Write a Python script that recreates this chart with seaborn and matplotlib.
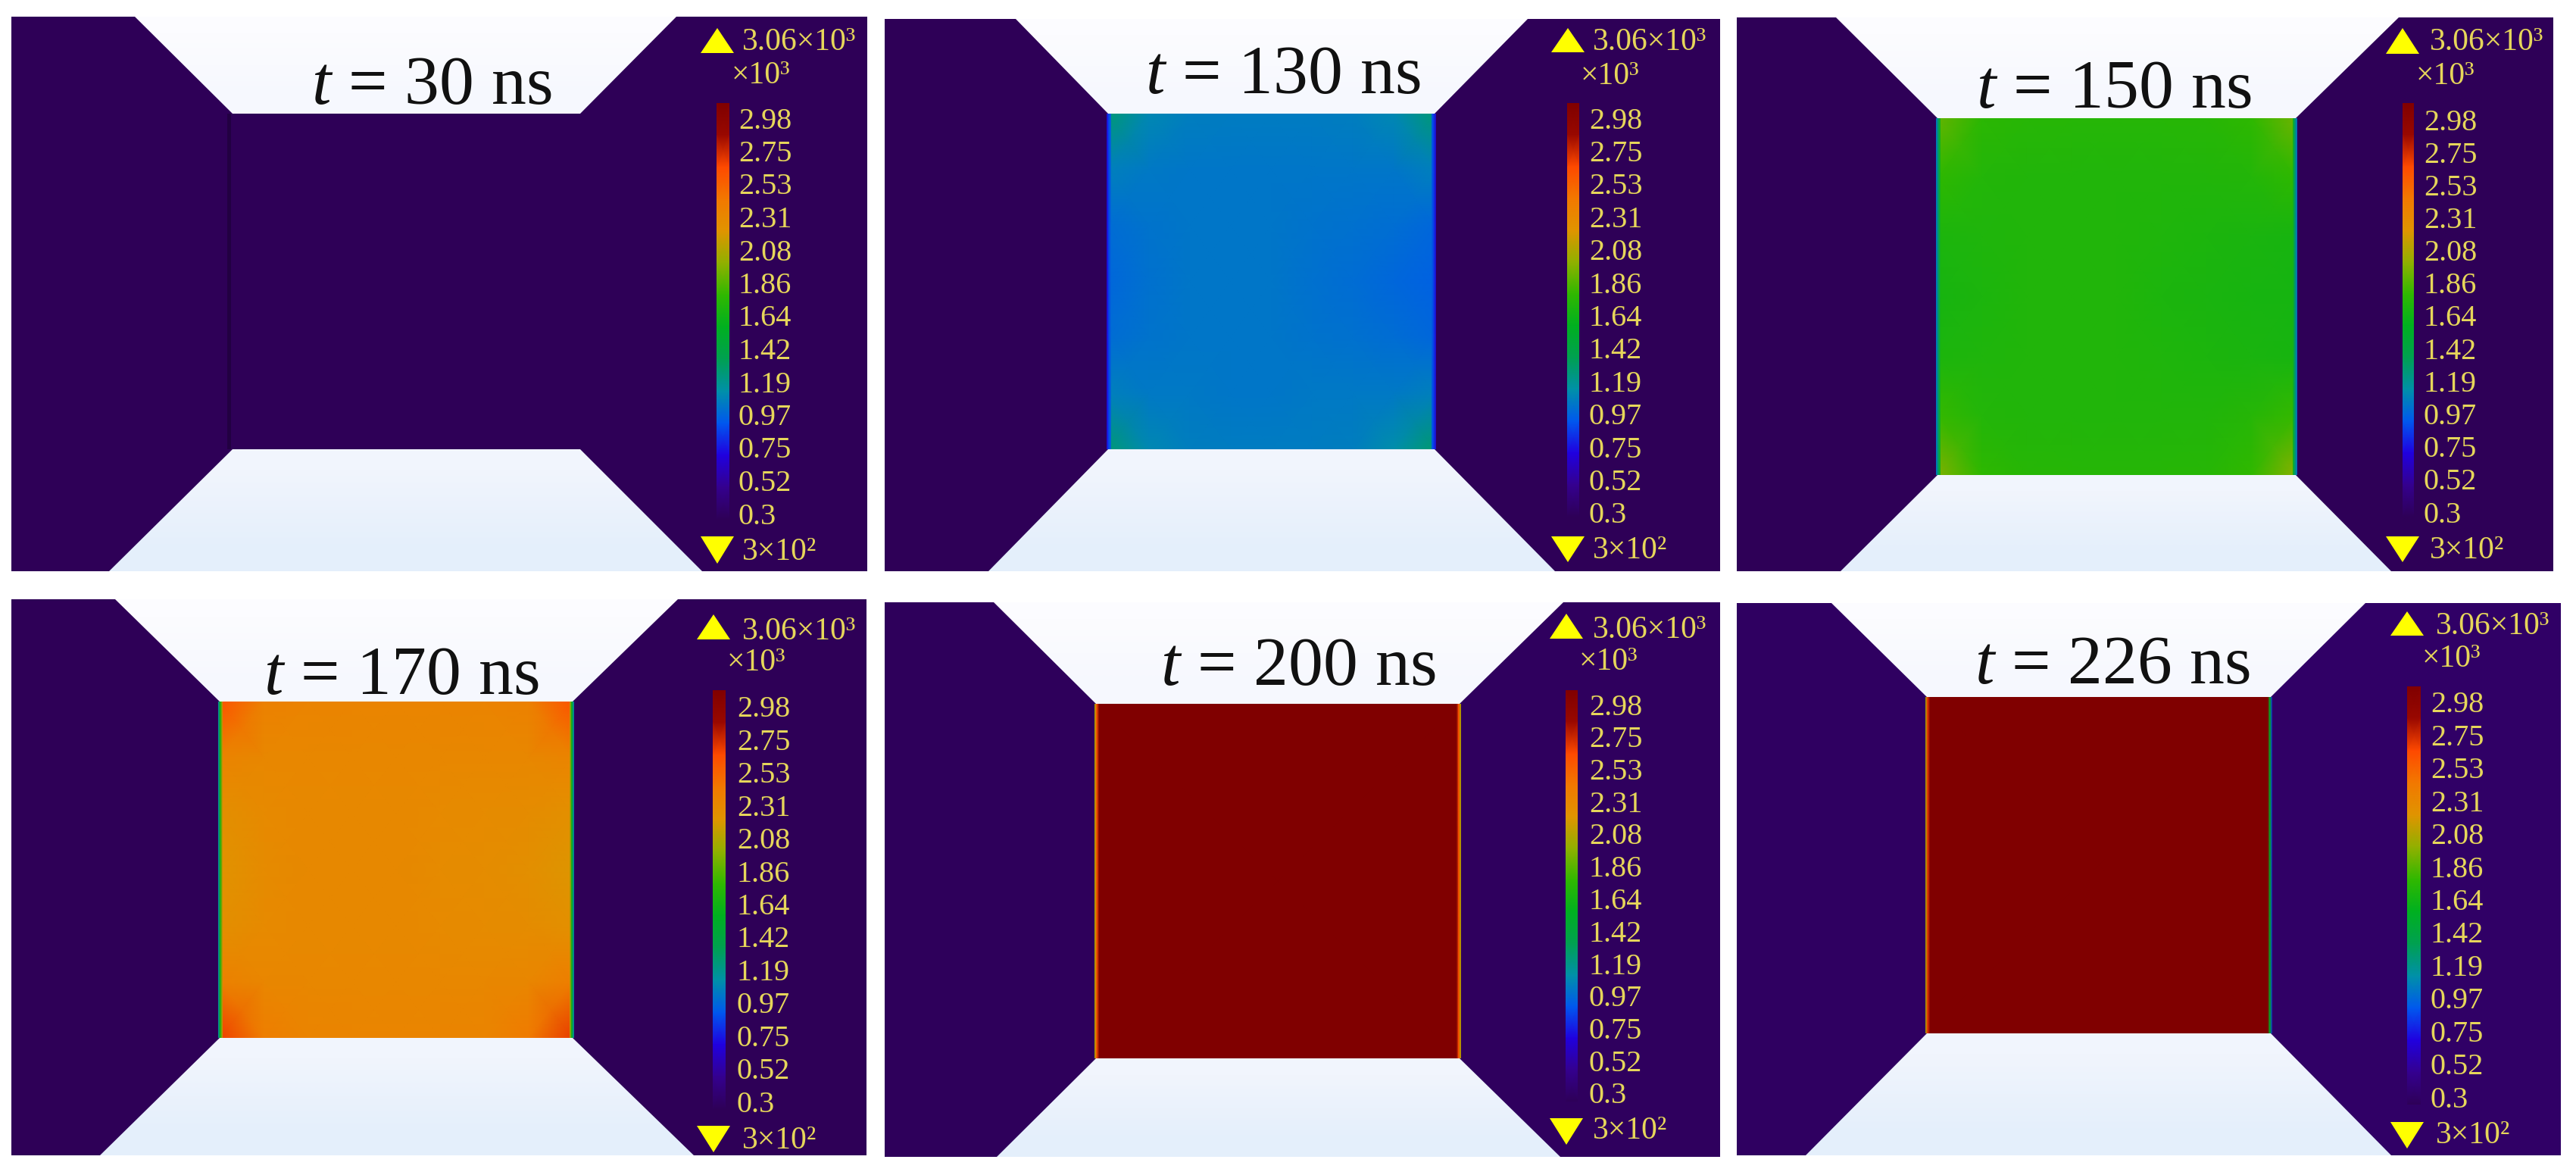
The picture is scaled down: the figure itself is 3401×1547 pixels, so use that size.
import numpy as np
import matplotlib
matplotlib.use('Agg')
import matplotlib.pyplot as plt
from matplotlib.colors import LinearSegmentedColormap
from matplotlib.patches import Polygon, Rectangle
import seaborn as sns

W, H = 3401, 1547

sns.set_theme(style='white')
plt.rcParams['font.family'] = ['Liberation Serif', 'DejaVu Serif']
plt.rcParams['mathtext.fontset'] = 'custom'
plt.rcParams['mathtext.rm'] = 'Liberation Serif'
plt.rcParams['mathtext.it'] = 'Liberation Serif:italic'

# Temperature scale (x 10^3 K)
vmin = 0.3
vmax = 3.06
scale_levels = [0.3, 0.52, 0.75, 0.97, 1.19, 1.42, 1.64, 1.86, 2.08, 2.31, 2.53, 2.75, 2.98, 3.06]
scale_colors = ['#2e0057', '#340090', '#2000e0', '#0058ee', '#0090a8', '#00a050', '#00b020',
                '#30b800', '#90b000', '#e09400', '#f27800', '#ff4a00', '#9a0800', '#800000']
tick_labels = ['2.98', '2.75', '2.53', '2.31', '2.08', '1.86', '1.64', '1.42', '1.19', '0.97', '0.75', '0.52', '0.3']
max_label = '3.06×10³'
min_label = '3×10²'
unit_label = '×10³'

# Time of each snapshot
times = ['30', '130', '150', '170', '200', '226']

# Temperature in the middle region of each snapshot, rows top to bottom
field_30 = [[0.3, 0.3], [0.3, 0.3]]
field_130 = [
    [1.32, 1.16, 1.12, 1.11, 1.11, 1.11, 1.12, 1.16, 1.32],
    [1.13, 1.10, 1.09, 1.09, 1.09, 1.09, 1.09, 1.09, 1.13],
    [1.05, 1.08, 1.09, 1.09, 1.09, 1.08, 1.07, 1.06, 1.03],
    [1.03, 1.07, 1.09, 1.09, 1.09, 1.07, 1.05, 1.03, 1.01],
    [1.05, 1.08, 1.09, 1.09, 1.09, 1.08, 1.07, 1.05, 1.03],
    [1.13, 1.10, 1.10, 1.09, 1.09, 1.10, 1.10, 1.10, 1.13],
    [1.32, 1.16, 1.12, 1.11, 1.11, 1.11, 1.12, 1.18, 1.34],
]
field_150 = [
    [1.98, 1.84, 1.82, 1.81, 1.81, 1.81, 1.82, 1.85, 2.00],
    [1.85, 1.80, 1.79, 1.79, 1.79, 1.79, 1.79, 1.80, 1.85],
    [1.77, 1.78, 1.79, 1.79, 1.79, 1.78, 1.77, 1.76, 1.75],
    [1.75, 1.77, 1.79, 1.79, 1.79, 1.77, 1.76, 1.75, 1.74],
    [1.77, 1.78, 1.79, 1.79, 1.79, 1.78, 1.77, 1.76, 1.75],
    [1.87, 1.80, 1.79, 1.79, 1.79, 1.79, 1.79, 1.81, 1.87],
    [2.04, 1.85, 1.82, 1.81, 1.81, 1.81, 1.82, 1.86, 2.06],
]
field_170 = [
    [2.70, 2.46, 2.44, 2.43, 2.43, 2.43, 2.44, 2.46, 2.70],
    [2.44, 2.41, 2.41, 2.41, 2.41, 2.41, 2.41, 2.41, 2.44],
    [2.35, 2.39, 2.40, 2.40, 2.40, 2.39, 2.38, 2.37, 2.34],
    [2.32, 2.38, 2.40, 2.40, 2.40, 2.38, 2.37, 2.35, 2.30],
    [2.35, 2.39, 2.40, 2.40, 2.40, 2.39, 2.38, 2.37, 2.34],
    [2.46, 2.42, 2.41, 2.41, 2.41, 2.41, 2.41, 2.42, 2.48],
    [2.78, 2.48, 2.44, 2.43, 2.43, 2.43, 2.44, 2.50, 2.80],
]
field_200 = [[3.06, 3.06], [3.06, 3.06]]
field_226 = [[3.06, 3.06], [3.06, 3.06]]
fields = [field_30, field_130, field_150, field_170, field_200, field_226]

# Temperature across the thin wall bands, outer edge to field side
walls_left = [[0.3, 0.3, 0.3], [0.72, 0.92, 1.05], [1.05, 1.35, 1.76],
              [1.15, 1.75, 2.32], [2.1, 2.7, 3.06], [2.1, 2.8, 3.06]]
walls_right = [[0.3, 0.3, 0.3], [1.01, 0.9, 0.68], [1.74, 1.35, 1.05],
               [2.3, 1.7, 1.1], [3.06, 2.7, 2.1], [3.06, 1.6, 0.8]]

# Temperature of the outer regions on each side
sides_left = [0.3, 0.3, 0.3, 0.3, 0.32, 0.34]
sides_right = [0.3, 0.3, 0.3, 0.3, 0.33, 0.36]

# Pixel layout of each panel
layouts = [
    dict(box=(15, 22, 1145, 754), top=(178, 893), mid=(307, 766, 150, 593), low=(144, 927),
         bar=(946, 963, 136, 685), tri_x=947, tri_up=(37, 70), tri_dn=(708, 744), txt_x=980,
         max_y=56, unit=(966, 100), lab_x=975, lab_y=(160, 682), min_y=729, title=(411, 137)),
    dict(box=(1168, 25, 2271, 754), top=(1341, 2017), mid=(1463, 1894, 150, 593), low=(1305, 2053),
         bar=(2069, 2085, 136, 682), tri_x=2070, tri_up=(37, 69), tri_dn=(708, 742), txt_x=2103,
         max_y=56, unit=(2087, 101), lab_x=2098, lab_y=(160, 681), min_y=727, title=(1512, 123)),
    dict(box=(2293, 23, 3371, 754), top=(2424, 3167), mid=(2558, 3031, 156, 627), low=(2430, 3157),
         bar=(3172, 3187, 136, 682), tri_x=3172, tri_up=(37, 71), tri_dn=(708, 742), txt_x=3208,
         max_y=56, unit=(3190, 101), lab_x=3200, lab_y=(162, 680), min_y=727, title=(2609, 142)),
    dict(box=(15, 791, 1144, 1525), top=(152, 895), mid=(290, 756, 926, 1370), low=(132, 916),
         bar=(941, 958, 911, 1464), tri_x=942, tri_up=(811, 844), tri_dn=(1486, 1521), txt_x=980,
         max_y=834, unit=(960, 875), lab_x=973, lab_y=(937, 1458), min_y=1506, title=(348, 916)),
    dict(box=(1168, 795, 2271, 1527), top=(1312, 2064), mid=(1447, 1927, 929, 1397), low=(1316, 2060),
         bar=(2067, 2083, 911, 1454), tri_x=2068, tri_up=(810, 843), tri_dn=(1476, 1511), txt_x=2103,
         max_y=832, unit=(2085, 874), lab_x=2098, lab_y=(934, 1447), min_y=1493, title=(1532, 904)),
    dict(box=(2293, 796, 3381, 1525), top=(2418, 3123), mid=(2544, 2998, 920, 1364), low=(2384, 3157),
         bar=(3178, 3196, 906, 1458), tri_x=3178, tri_up=(807, 839), tri_dn=(1481, 1516), txt_x=3216,
         max_y=827, unit=(3198, 870), lab_x=3209, lab_y=(931, 1452), min_y=1499, title=(2607, 902)),
]

positions = [(v - vmin) / (vmax - vmin) for v in scale_levels]
temp_cmap = LinearSegmentedColormap.from_list('temp', list(zip(positions, scale_colors)), N=512)


def to_color(value):
    return temp_cmap((value - vmin) / (vmax - vmin))


def smooth_heatmap(data, x0, x1, y0, y1):
    # heatmap axes placed by pixel box, gouraud so the cells blend
    data = np.array(data, dtype=float)
    ax = fig.add_axes([x0 / W, 1 - y1 / H, (x1 - x0) / W, (y1 - y0) / H], zorder=2)
    sns.heatmap(data, ax=ax, cmap=temp_cmap, vmin=vmin, vmax=vmax, cbar=False,
                xticklabels=False, yticklabels=False, shading='gouraud')
    ax.set_xlim(0, data.shape[1] - 1)
    ax.set_ylim(data.shape[0] - 1, 0)
    ax.axis('off')
    return ax


fig = plt.figure(figsize=(W / 100, H / 100), dpi=100, facecolor='white')

# Base axes in pixel coordinates for the domain shapes and the text
base = fig.add_axes([0, 0, 1, 1], zorder=1)
base.patch.set_alpha(0)

top_cmap = LinearSegmentedColormap.from_list('top', ['#fcfcff', '#f6f8fe'])
low_cmap = LinearSegmentedColormap.from_list('low', ['#f1f5fd', '#e4effb'])

for i, lay in enumerate(layouts):
    x0, y0, x1, y1 = lay['box']
    mx0, mx1, my0, my1 = lay['mid']
    xc = (mx0 + mx1) / 2

    base.add_patch(Rectangle((x0, y0), xc - x0, y1 - y0, fc=to_color(sides_left[i]), ec='none', zorder=1))
    base.add_patch(Rectangle((xc, y0), x1 - xc, y1 - y0, fc=to_color(sides_right[i]), ec='none', zorder=1))

    # open regions above and below the middle field
    top_shape = Polygon([(lay['top'][0], y0), (lay['top'][1], y0), (mx1, my0), (mx0, my0)], transform=base.transData)
    low_shape = Polygon([(mx0, my1), (mx1, my1), (lay['low'][1], y1), (lay['low'][0], y1)], transform=base.transData)
    im = base.imshow([[0], [0.5], [1]], cmap=top_cmap, extent=(x0, x1, my0, y0), aspect='auto',
                     interpolation='bilinear', zorder=2)
    im.set_clip_path(top_shape)
    im = base.imshow([[0], [0.5], [1]], cmap=low_cmap, extent=(x0, x1, y1, my1), aspect='auto',
                     interpolation='bilinear', zorder=2)
    im.set_clip_path(low_shape)

    # middle field and its wall bands
    smooth_heatmap(fields[i], mx0, mx1, my0, my1)
    smooth_heatmap([walls_left[i], walls_left[i]], mx0 - 2, mx0 + 4, my0, my1)
    smooth_heatmap([walls_right[i], walls_right[i]], mx1 - 4, mx1 + 2, my0, my1)

    # colour scale
    bx0, bx1, by0, by1 = lay['bar']
    strip = np.array(scale_levels[::-1])
    smooth_heatmap(np.column_stack([strip, strip]), bx0, bx1, by0, by1)

    # min and max markers
    tx = lay['tri_x']
    t0, t1 = lay['tri_up']
    base.add_patch(Polygon([(tx - 22, t1), (tx + 22, t1), (tx, t0)], fc='#ffff00', ec='none', zorder=4))
    t0, t1 = lay['tri_dn']
    base.add_patch(Polygon([(tx - 22, t0), (tx + 22, t0), (tx, t1)], fc='#ffff00', ec='none', zorder=4))

    label_color = '#e6d65a'
    base.text(lay['txt_x'], lay['max_y'], max_label, color=label_color, fontsize=30, va='center', ha='left', zorder=5)
    base.text(lay['unit'][0], lay['unit'][1], unit_label, color=label_color, fontsize=30, va='center', ha='left', zorder=5)
    base.text(lay['txt_x'], lay['min_y'], min_label, color=label_color, fontsize=30, va='center', ha='left', zorder=5)
    ly = np.linspace(lay['lab_y'][0], lay['lab_y'][1], len(tick_labels))
    for label, y in zip(tick_labels, ly):
        base.text(lay['lab_x'], y, label, color=label_color, fontsize=29, va='center', ha='left', zorder=5)

    base.text(lay['title'][0], lay['title'][1], r'$\mathit{t}$ = ' + times[i] + ' ns', color='#111111',
              fontsize=66, va='baseline', ha='left', zorder=5)

# faint dark line on the left wall at the first snapshot
base.add_patch(Rectangle((300, 150), 6, 443, fc='#220042', ec='none', zorder=3))

base.set_xlim(0, W)
base.set_ylim(H, 0)
base.axis('off')

fig.savefig('out.png', dpi=100, facecolor='white')
